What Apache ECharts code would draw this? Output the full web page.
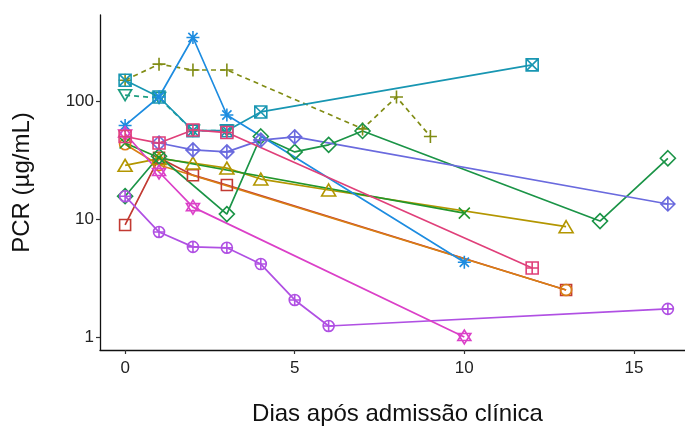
<!DOCTYPE html>
<html><head><meta charset="utf-8">
<script src="https://cdn.jsdelivr.net/npm/echarts@6/dist/echarts.min.js"></script>
<style>html,body{margin:0;padding:0;background:#fff}#c{width:685px;height:428px}</style>
</head><body><div id="c"></div>
<script>
// axis ticks
const xTicks = [0, 5, 10, 15];
const yTicks = [1, 10, 100];
const xTitle = 'Dias após admissão clínica';
const yTitle = 'PCR (µg/mL)';

// patients: days after admission and PCR values (µg/mL)
const p00Days = [0, 1, 2, 3, 13];            const p00PCR = [8.9, 33, 23.5, 19.4, 2.5];
const p01Days = [0, 1, 13];                  const p01PCR = [43, 28.7, 2.5];
const p02Days = [0, 1, 2, 3, 4, 6, 13];      const p02PCR = [28.5, 32.5, 29.8, 27, 21.8, 17.6, 8.6];
const p03Days = [0, 1, 2, 3, 7, 8, 9];       const p03PCR = [150, 205, 183, 183, 58, 108, 50];
const p04Days = [0, 1, 10];                  const p04PCR = [44, 33, 11.2];
const p05Days = [0, 1, 3, 4, 5, 6, 7, 14, 16]; const p05PCR = [15.6, 34, 11, 50, 37, 42.5, 55.7, 9.6, 32.7];
const p06Days = [0, 1, 2, 3];                const p06PCR = [112, 106, 56, 56];
const p07Days = [0, 1, 2, 3, 4, 12];         const p07PCR = [150, 108, 56, 56, 80.7, 202];
const p08Days = [0, 1, 2, 3, 10];            const p08PCR = [62, 108, 345, 76, 4.3];
const p09Days = [1, 2, 3, 4, 5, 16];         const p09PCR = [44, 38.5, 37, 46.6, 49.6, 13.4];
const p10Days = [0, 1, 2, 3, 4, 5, 6, 16];   const p10PCR = [15.6, 7.75, 5.8, 5.7, 4.15, 2.06, 1.24, 1.73];
const p11Days = [0, 1, 2, 10];               const p11PCR = [53, 25, 12.6, 1.0];
const p12Days = [0, 1, 2, 3, 12];            const p12PCR = [50, 44, 56.8, 54, 3.84];

const dayLists = [p00Days, p01Days, p02Days, p03Days, p04Days, p05Days, p06Days, p07Days, p08Days, p09Days, p10Days, p11Days, p12Days];
const pcrLists = [p00PCR, p01PCR, p02PCR, p03PCR, p04PCR, p05PCR, p06PCR, p07PCR, p08PCR, p09PCR, p10PCR, p11PCR, p12PCR];
const dashed   = [false, false, false, true, false, false, true, false, false, false, false, false, false];

const colors = ['#c23a32', '#d98014', '#b39600', '#808c14', '#23962a', '#1b9447', '#1d9e80',
                '#1896b2', '#1d8ce0', '#6a6ade', '#b050e3', '#db40c8', '#e0407a'];
const symbols = [
  'rect', 'circle', 'triangle',
  'path://M5 0V10M0 5H10',
  'path://M0 0L10 10M10 0L0 10',
  'diamond',
  'path://M0 0H10L5 8.66Z',
  'path://M0 0H10V10H0ZM0 0L10 10M10 0L0 10',
  'path://M5 0V10M0 5H10M1.46 1.46L8.54 8.54M8.54 1.46L1.46 8.54',
  'path://M5 0L10 5L5 10L0 5ZM5 0V10M0 5H10',
  'path://M0 5A5 5 0 1 0 10 5A5 5 0 1 0 0 5ZM5 0V10M0 5H10',
  'path://M5 0L10 8.66H0ZM0 2.89H10L5 11.55Z',
  'path://M0 0H10V10H0ZM5 0V10M0 5H10'
];
const symSizes = [11, 11, [14, 12], 13, 11, 15, [13, 11], 12, 13, 14, 11, [13, 14], 12];

const series = [];
dayLists.forEach((days, i) => {
  const data = days.map((d, k) => [d, pcrLists[i][k]]);
  series.push({
    type: 'line', data, showSymbol: false, z: 2, silent: true,
    lineStyle: { color: colors[i], width: 1.7, type: dashed[i] ? [5, 4] : 'solid' }
  });
});
dayLists.forEach((days, i) => {
  const data = days.map((d, k) => [d, pcrLists[i][k]]);
  series.push({
    type: 'scatter', data, z: 3, silent: true,
    symbol: symbols[i], symbolSize: symSizes[i],
    itemStyle: { color: 'rgba(0,0,0,0)', borderColor: colors[i], borderWidth: 1.6, opacity: 1 }
  });
});

const chart = echarts.init(document.getElementById('c'), null, { renderer: 'canvas' });
chart.setOption({
  animation: false,
  backgroundColor: '#fff',
  grid: { left: 100, right: -10, top: 15, bottom: 78, containLabel: false, outerBoundsMode: 'none' },
  xAxis: {
    type: 'value', min: -0.74, max: 16.8,
    axisLine: { onZero: false, lineStyle: { color: '#111', width: 1.3 } },
    axisTick: { customValues: xTicks, length: 4, lineStyle: { color: '#333', width: 1.2 } },
    axisLabel: { customValues: xTicks, fontSize: 17, color: '#222', margin: 10, fontFamily: 'Liberation Sans' },
    splitLine: { show: false },
    name: xTitle, nameLocation: 'middle', nameGap: 52,
    nameTextStyle: { fontSize: 24, color: '#111', fontFamily: 'Liberation Sans' }
  },
  yAxis: {
    type: 'log', logBase: 10, min: 0.776, max: 535,
    axisLine: { show: true, onZero: false, lineStyle: { color: '#111', width: 1.3 } },
    axisTick: { show: true, customValues: yTicks, length: 4, lineStyle: { color: '#333', width: 1.2 } },
    axisLabel: { customValues: yTicks, fontSize: 17, color: '#222', margin: 6, fontFamily: 'Liberation Sans' },
    splitLine: { show: false },
    name: yTitle, nameLocation: 'middle', nameGap: 66,
    nameTextStyle: { fontSize: 24, color: '#111', fontFamily: 'Liberation Sans' }
  },
  series
});
</script>
</body></html>
